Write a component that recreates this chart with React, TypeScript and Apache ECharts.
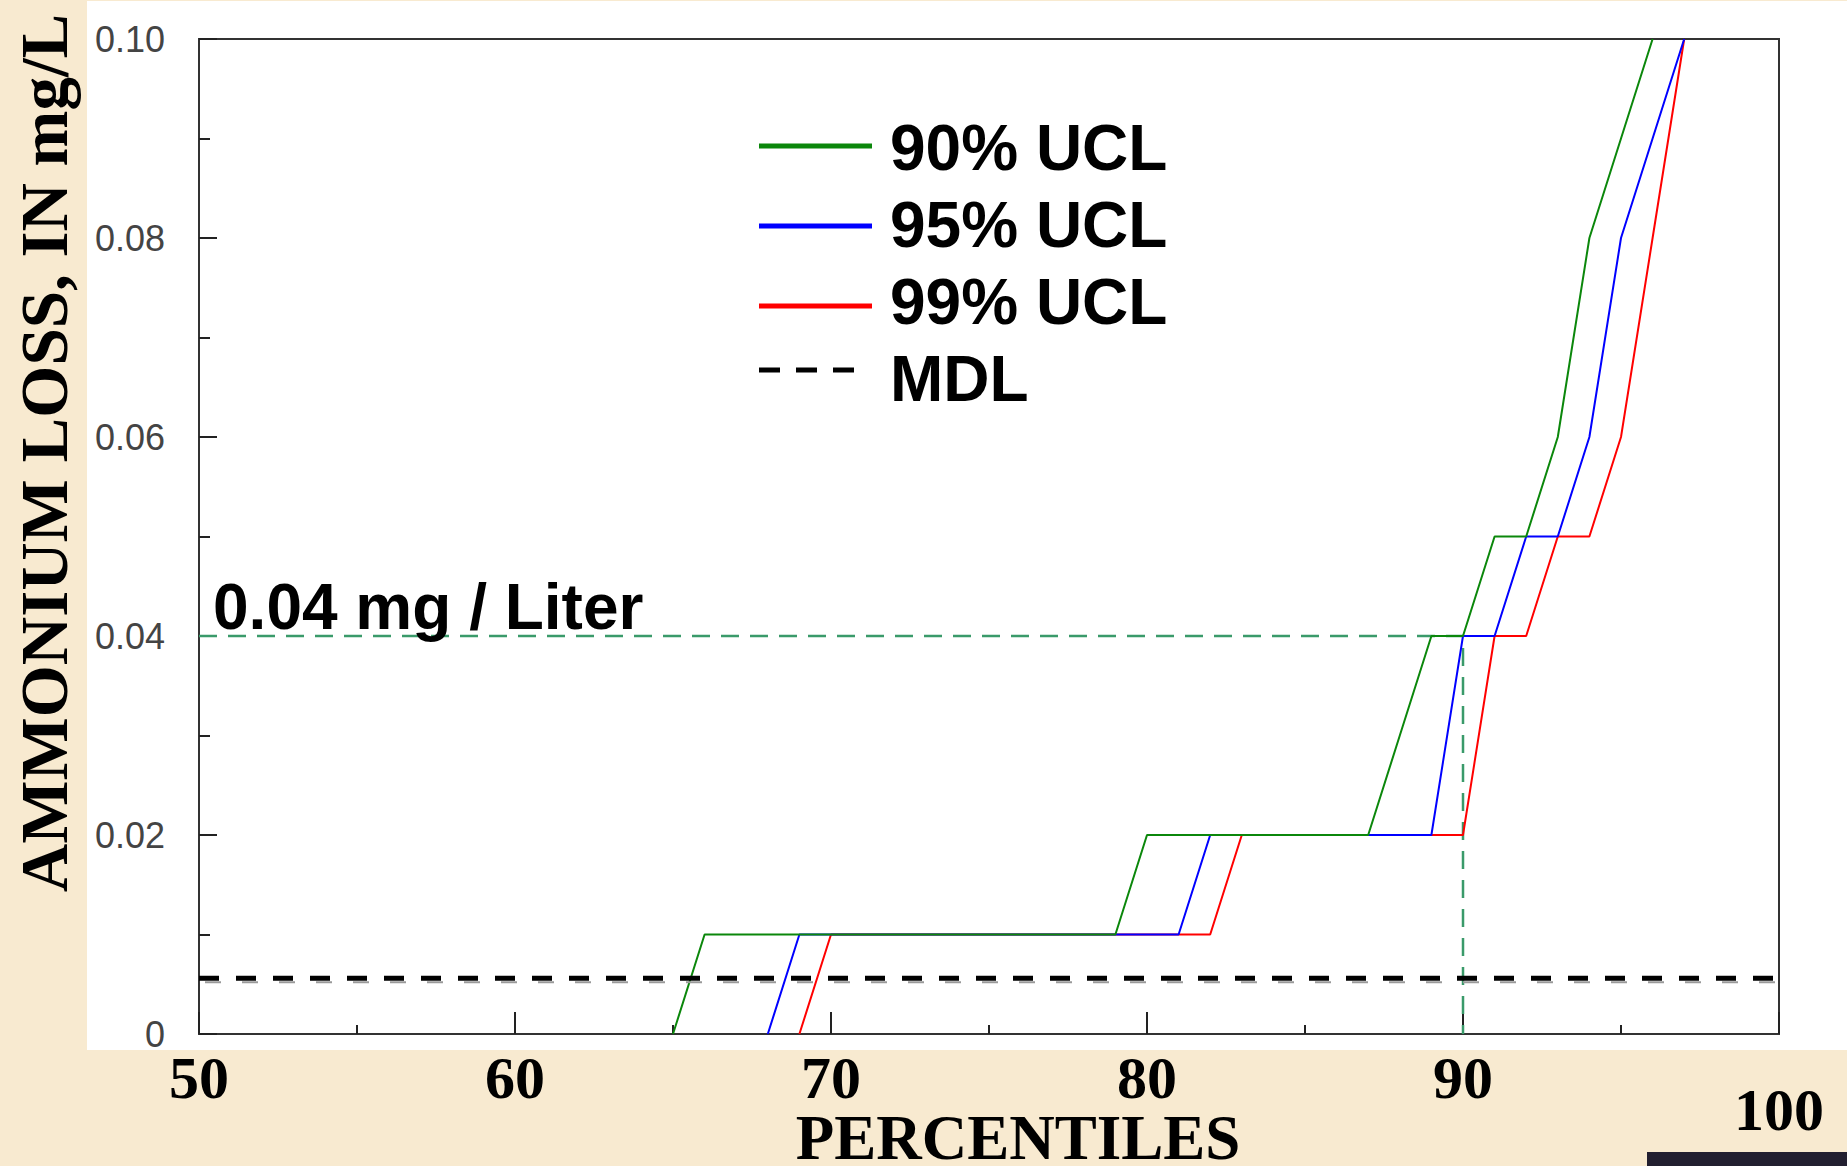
import React, { useEffect, useRef } from "react";
import * as echarts from "echarts";

// ---- data ----
const xTickValues = [50, 60, 70, 80, 90, 100];
const yTickValues = [0, 0.02, 0.04, 0.06, 0.08, 0.1];

const ucl90Pct = [65, 66, 79, 80, 87, 88, 89, 90, 91, 92, 93, 94, 95, 96];
const ucl90Val = [0, 0.01, 0.01, 0.02, 0.02, 0.03, 0.04, 0.04, 0.05, 0.05, 0.06, 0.08, 0.09, 0.1];

const ucl95Pct = [68, 69, 81, 82, 89, 90, 91, 92, 93, 94, 95, 96, 97];
const ucl95Val = [0, 0.01, 0.01, 0.02, 0.02, 0.04, 0.04, 0.05, 0.05, 0.06, 0.08, 0.09, 0.1];

const ucl99Pct = [69, 70, 82, 83, 90, 91, 92, 93, 94, 95, 96, 97];
const ucl99Val = [0, 0.01, 0.01, 0.02, 0.02, 0.04, 0.04, 0.05, 0.05, 0.06, 0.08, 0.1];

const mdlValue = 0.0056;
const mdlShadowValue = 0.0052;

const refPct = [50, 90, 90];
const refVal = [0.04, 0.04, 0];
const refLabel = "0.04 mg / Liter";

const legendLabels = ["90% UCL", "95% UCL", "99% UCL", "MDL"];
const seriesColors = ["#0b870b", "#0000ff", "#ff0000", "#000000"];

const xTitle = "PERCENTILES";
const yTitle = "AMMONIUM LOSS, IN mg/L";

const SERIF = '"Liberation Serif", "Times New Roman", serif';
const SANS = '"Liberation Sans", Arial, sans-serif';

function pairs(xs: number[], ys: number[]) {
  return xs.map((x, i) => [x, ys[i]]);
}

export default function App() {
  const ref = useRef<HTMLDivElement>(null);

  useEffect(() => {
    if (!ref.current) return;
    const chart = echarts.init(ref.current, undefined, { renderer: "svg" });

    const legendLineY = [146, 226, 306, 370];
    const legendTextY = [148, 225, 302, 379];

    const legendGraphics: any[] = [];
    legendLabels.forEach((lab, i) => {
      legendGraphics.push({
        type: "line",
        shape: { x1: 759, y1: legendLineY[i], x2: i === 3 ? 856 : 872, y2: legendLineY[i] },
        style: {
          stroke: seriesColors[i],
          lineWidth: 5,
          lineDash: i === 3 ? [21, 16] : null,
        },
        z: 10,
      });
      legendGraphics.push({
        type: "text",
        x: 890,
        y: legendTextY[i],
        style: {
          text: lab,
          font: `bold 64px ${SANS}`,
          fill: "#000",
          textAlign: "left",
          textVerticalAlign: "middle",
        },
        z: 10,
      });
    });

    const option: any = {
      animation: false,
      backgroundColor: "transparent",
      grid: {
        left: 199,
        right: 68,
        top: 39,
        bottom: 132,
        show: true,
        borderColor: "#333",
        borderWidth: 2,
        backgroundColor: "transparent",
      },
      xAxis: {
        type: "value",
        min: 50,
        max: 100,
        interval: 10,
        axisLine: { show: true, lineStyle: { color: "#333", width: 2 } },
        axisTick: { show: true, inside: true, length: 22, lineStyle: { color: "#222", width: 2 } },
        minorTick: { show: true, splitNumber: 2, length: 9, lineStyle: { color: "#222", width: 2 } },
        splitLine: { show: false },
        axisLabel: {
          margin: 14,
          color: "#000",
          fontFamily: SERIF,
          fontWeight: "bold",
          fontSize: 60,
          formatter: (v: number) =>
            xTickValues.includes(v) ? (v === 100 ? `{low|${v}}` : `{n|${v}}`) : "",
          rich: {
            n: { fontFamily: SERIF, fontWeight: "bold", fontSize: 60, color: "#000" },
            low: {
              fontFamily: SERIF,
              fontWeight: "bold",
              fontSize: 60,
              color: "#000",
              padding: [32, 0, 0, 0],
            },
          },
        },
      },
      yAxis: {
        type: "value",
        min: 0,
        max: 0.1,
        interval: 0.02,
        axisLine: { show: true, lineStyle: { color: "#333", width: 2 } },
        axisTick: { show: true, inside: true, length: 18, lineStyle: { color: "#222", width: 2 } },
        minorTick: { show: true, splitNumber: 2, length: 11, lineStyle: { color: "#222", width: 2 } },
        splitLine: { show: false },
        axisLabel: {
          margin: 34,
          color: "#444",
          fontFamily: SANS,
          fontSize: 36,
          formatter: (v: number) => {
            const hit = yTickValues.find((t) => Math.abs(t - v) < 1e-9);
            if (hit === undefined) return "";
            return hit === 0 ? "0" : hit.toFixed(2);
          },
        },
      },
      series: [
        {
          name: "ref",
          type: "line",
          data: pairs(refPct, refVal),
          symbol: "none",
          silent: true,
          lineStyle: { color: "#3a9a6a", width: 2.5, type: [18, 11] },
          z: 2,
        },
        {
          name: legendLabels[2],
          type: "line",
          data: pairs(ucl99Pct, ucl99Val),
          symbol: "none",
          lineStyle: { color: seriesColors[2], width: 2 },
          z: 3,
        },
        {
          name: legendLabels[1],
          type: "line",
          data: pairs(ucl95Pct, ucl95Val),
          symbol: "none",
          lineStyle: { color: seriesColors[1], width: 2 },
          z: 3,
        },
        {
          name: legendLabels[0],
          type: "line",
          data: pairs(ucl90Pct, ucl90Val),
          symbol: "none",
          lineStyle: { color: seriesColors[0], width: 2 },
          z: 3,
        },
        {
          name: "mdl-shadow",
          type: "line",
          data: [
            [50, mdlShadowValue],
            [100, mdlShadowValue],
          ],
          symbol: "none",
          silent: true,
          lineStyle: { color: "#9a9a9a", width: 2, type: [16, 21], dashOffset: -6 },
          z: 4,
        },
        {
          name: legendLabels[3],
          type: "line",
          data: [
            [50, mdlValue],
            [100, mdlValue],
          ],
          symbol: "none",
          lineStyle: { color: "#000", width: 5, type: [20, 17] },
          z: 5,
        },
      ],
      graphic: [
        {
          type: "rect",
          shape: { x: 87, y: 1, width: 1760, height: 1049 },
          style: { fill: "#ffffff" },
          z: -100,
          silent: true,
        },
        {
          type: "rect",
          shape: { x: 1647, y: 1152, width: 200, height: 14 },
          style: { fill: "#221f30" },
          z: 10,
          silent: true,
        },
        {
          type: "text",
          x: 44,
          y: 453,
          rotation: Math.PI / 2,
          style: {
            text: yTitle,
            font: `bold 67px ${SERIF}`,
            fill: "#000",
            textAlign: "center",
            textVerticalAlign: "middle",
          },
          z: 10,
        },
        {
          type: "text",
          x: 1018,
          y: 1138,
          style: {
            text: xTitle,
            font: `bold 63px ${SERIF}`,
            fill: "#000",
            textAlign: "center",
            textVerticalAlign: "middle",
          },
          z: 10,
        },
        {
          type: "text",
          x: 213,
          y: 607,
          style: {
            text: refLabel,
            font: `bold 64px ${SANS}`,
            fill: "#000",
            textAlign: "left",
            textVerticalAlign: "middle",
          },
          z: 10,
        },
        ...legendGraphics,
      ],
    };

    chart.setOption(option);
    return () => chart.dispose();
  }, []);

  return (
    <div
      ref={ref}
      style={{
        position: "fixed",
        left: 0,
        top: 0,
        width: 1847,
        height: 1166,
        background: "#f8ead0",
      }}
    />
  );
}
